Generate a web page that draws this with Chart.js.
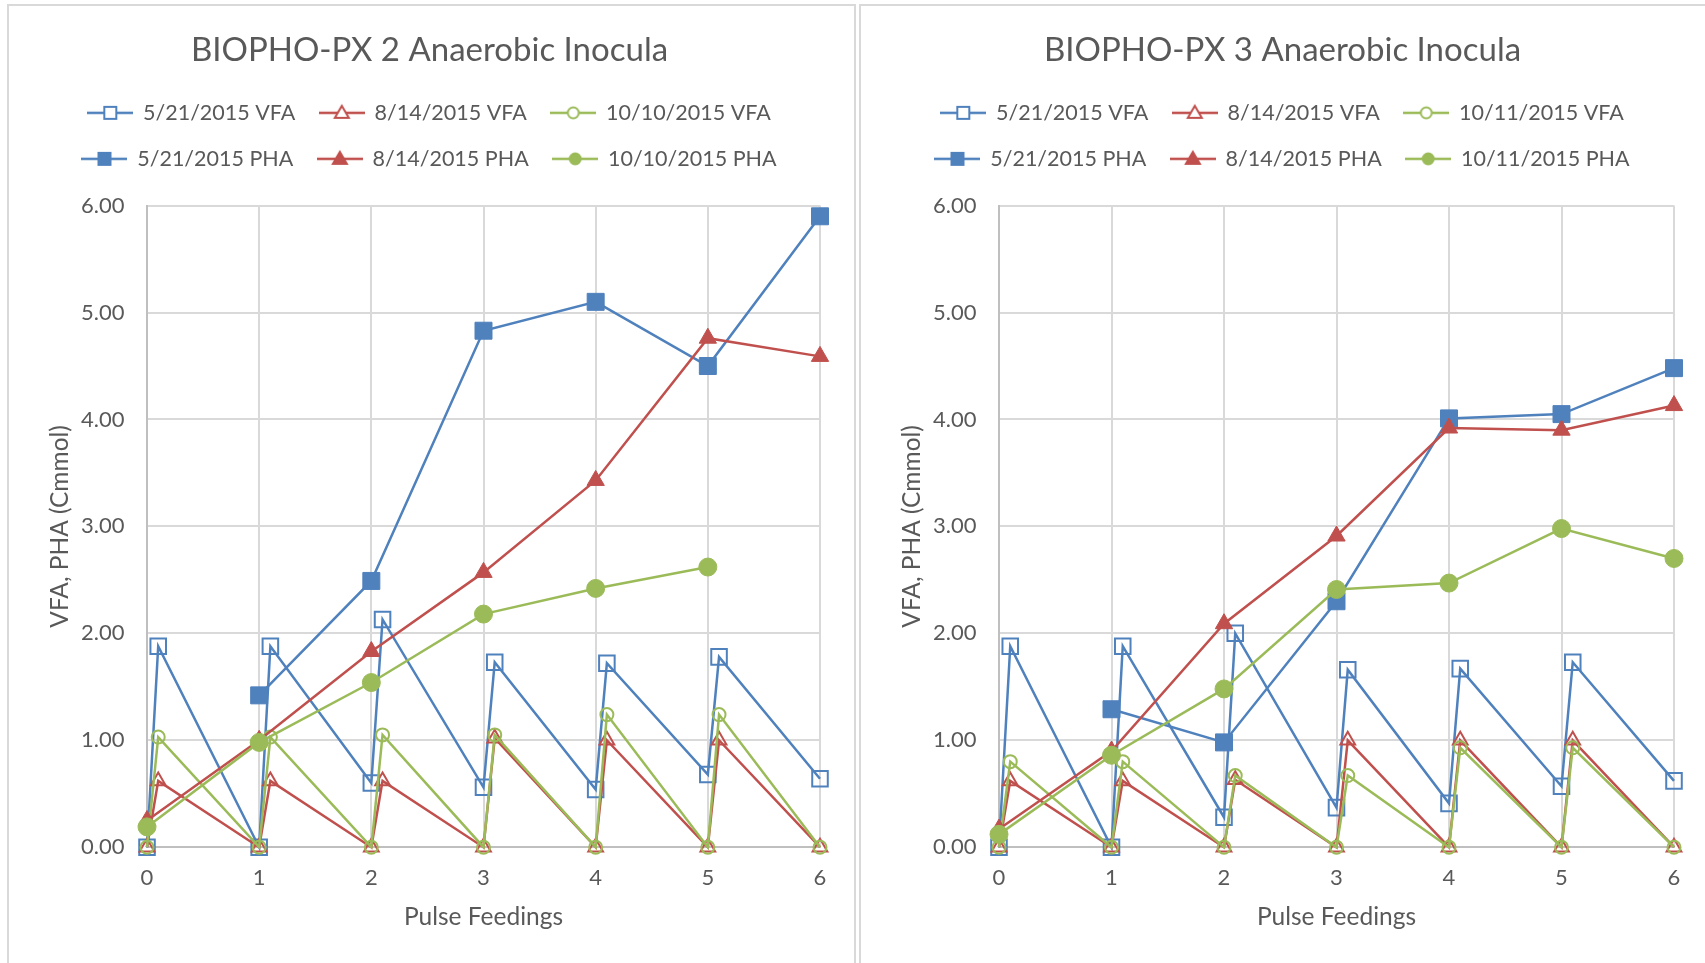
<!DOCTYPE html>
<html>
<head>
<meta charset="utf-8">
<script src="https://cdn.jsdelivr.net/npm/chart.js@4.4.1/dist/chart.umd.min.js"></script>
<style>
  html, body { margin: 0; padding: 0; background: #fff; overflow: hidden; }
  body { width: 1705px; height: 963px; position: relative; }
  .panel { position: absolute; top: 4px; height: 990px; border: 2px solid #d9d9d9; box-sizing: border-box; }
  #panel2 { left: 7px; width: 849px; }
  #panel3 { left: 859px; width: 870px; }
  canvas { position: absolute; left: 0; top: 0; }
</style>
</head>
<body>
<div class="panel" id="panel2"><canvas id="chartPx2" width="845" height="957"></canvas></div>
<div class="panel" id="panel3"><canvas id="chartPx3" width="844" height="957"></canvas></div>
<script>
// x positions: each pulse feeding and the VFA reading just after it
const vfaX = [0, 0.1, 1, 1.1, 2, 2.1, 3, 3.1, 4, 4.1, 5, 5.1, 6];
const phaX = [0, 1, 2, 3, 4, 5, 6];
const xTickValues = [0, 1, 2, 3, 4, 5, 6];
const yTickValues = [0, 1, 2, 3, 4, 5, 6];

// BIOPHO-PX 2
const px2Dates = ["5/21/2015", "8/14/2015", "10/10/2015"];
const px2Vfa0521 = [0, 1.88, 0, 1.88, 0.60, 2.13, 0.56, 1.73, 0.54, 1.72, 0.68, 1.78, 0.64];
const px2Vfa0814 = [0, 0.62, 0, 0.62, 0, 0.62, 0, 1.02, 0, 1.00, 0, 1.00, 0];
const px2Vfa1010 = [0, 1.03, 0, 1.03, 0, 1.05, 0, 1.05, 0, 1.24, 0, 1.24, 0];
const px2Pha0521 = [null, 1.42, 2.49, 4.83, 5.10, 4.50, 5.90];
const px2Pha0814 = [0.25, 1.00, 1.83, 2.57, 3.43, 4.76, 4.59];
const px2Pha1010 = [0.19, 0.98, 1.54, 2.18, 2.42, 2.62, null];

// BIOPHO-PX 3
const px3Dates = ["5/21/2015", "8/14/2015", "10/11/2015"];
const px3Vfa0521 = [0, 1.88, 0, 1.88, 0.28, 2.00, 0.37, 1.66, 0.41, 1.67, 0.57, 1.73, 0.62];
const px3Vfa0814 = [0, 0.62, 0, 0.62, 0, 0.63, 0, 1.00, 0, 1.00, 0, 1.00, 0];
const px3Vfa1011 = [0, 0.80, 0, 0.80, 0, 0.67, 0, 0.67, 0, 0.93, 0, 0.93, 0];
const px3Pha0521 = [null, 1.29, 0.98, 2.30, 4.01, 4.05, 4.48];
const px3Pha0814 = [0.17, 0.90, 2.09, 2.91, 3.92, 3.90, 4.13];
const px3Pha1011 = [0.12, 0.86, 1.48, 2.41, 2.47, 2.98, 2.70];

const FONT = "Lato";
const TEXT = "#595959";
const colors = ["#4f81bd", "#c0504d", "#9bbb59"];
const styles = ["rect", "triangle", "circle"];

// little line+marker picture for the legend, like Excel's
function legendIcon(color, style, filled) {
    const c = document.createElement("canvas");
    c.width = 46;
    c.height = 20;
    const g = c.getContext("2d");
    g.strokeStyle = color;
    g.lineWidth = 2.5;
    g.beginPath();
    g.moveTo(0, 10);
    g.lineTo(46, 10);
    g.stroke();
    g.fillStyle = filled ? color : "#fff";
    g.lineWidth = 2;
    g.beginPath();
    if (style === "rect") g.rect(17, 4, 12, 12);
    else if (style === "triangle") { g.moveTo(23, 3); g.lineTo(30, 15); g.lineTo(16, 15); g.closePath(); }
    else g.arc(23, 10, 5.5, 0, Math.PI * 2);
    g.fill();
    g.stroke();
    return c;
}

// extra room between legend and plot
const legendGap = {
    id: "legendGap",
    beforeInit(chart) {
        const fit = chart.legend.fit;
        chart.legend.fit = function () {
            fit.call(this);
            this.height += 26;
        };
    }
};

function buildChart(id, title, dates, vfaSets, phaSets, padRight) {
    const datasets = [];
    const icons = [];
    const openRadius = [11, 8.5, 6.5];
    const fillRadius = [12, 10, 9];
    vfaSets.forEach((vals, i) => {
        datasets.push({
            label: dates[i] + " VFA",
            data: vfaX.map((x, j) => ({ x: x, y: vals[j] })),
            showLine: true,
            borderColor: colors[i],
            borderWidth: 2.5,
            pointStyle: styles[i],
            pointRadius: openRadius[i],
            pointBorderWidth: 2,
            pointBorderColor: colors[i],
            pointBackgroundColor: "rgba(255,255,255,0)",
            clip: false,
            order: 10 - i
        });
        icons.push(legendIcon(colors[i], styles[i], false));
    });
    phaSets.forEach((vals, i) => {
        datasets.push({
            label: dates[i] + " PHA",
            data: phaX.map((x, j) => ({ x: x, y: vals[j] })),
            showLine: true,
            borderColor: colors[i],
            borderWidth: 2.5,
            pointStyle: styles[i],
            pointRadius: fillRadius[i],
            pointBorderWidth: 1,
            pointBorderColor: colors[i],
            pointBackgroundColor: colors[i],
            clip: false,
            order: 5 - i
        });
        icons.push(legendIcon(colors[i], styles[i], true));
    });

    return new Chart(document.getElementById(id), {
        type: "scatter",
        data: { datasets: datasets },
        plugins: [legendGap],
        options: {
            responsive: false,
            animation: false,
            events: [],
            layout: { padding: { left: 30, right: padRight, top: 0, bottom: 31 } },
            plugins: {
                tooltip: { enabled: false },
                title: {
                    display: true,
                    text: title,
                    color: TEXT,
                    font: { family: FONT, size: 33, weight: "normal" },
                    padding: { top: 25, bottom: 7 }
                },
                legend: {
                    display: true,
                    position: "top",
                    labels: {
                        usePointStyle: true,
                        pointStyleWidth: 44,
                        padding: 24.5,
                        color: TEXT,
                        font: { family: FONT, size: 21.5 },
                        generateLabels: (chart) => chart.data.datasets.map((ds, i) => ({
                            text: ds.label,
                            pointStyle: icons[i],
                            fontColor: TEXT,
                            fillStyle: colors[i % 3],
                            strokeStyle: colors[i % 3],
                            lineWidth: 0,
                            hidden: false,
                            datasetIndex: i
                        }))
                    }
                }
            },
            scales: {
                x: {
                    type: "linear",
                    min: 0,
                    max: 6,
                    afterBuildTicks: (s) => { s.ticks = xTickValues.map(v => ({ value: v })); },
                    grid: { color: "#d9d9d9", lineWidth: 2, drawTicks: false },
                    border: { color: "#bfbfbf", width: 2 },
                    ticks: { padding: 17.5, color: TEXT, font: { family: FONT, size: 22 }, callback: (v) => String(v) },
                    title: {
                        display: true,
                        text: "Pulse Feedings",
                        color: TEXT,
                        font: { family: FONT, size: 24.5 },
                        padding: { top: -6, bottom: 0 }
                    }
                },
                y: {
                    min: 0,
                    max: 6,
                    afterBuildTicks: (s) => { s.ticks = yTickValues.map(v => ({ value: v })); },
                    afterFit: (s) => { s.width = 108; },
                    grid: { color: "#d9d9d9", lineWidth: 2, drawTicks: false },
                    border: { color: "#bfbfbf", width: 2 },
                    ticks: { padding: 22.5, color: TEXT, font: { family: FONT, size: 22 }, callback: (v) => Number(v).toFixed(2) },
                    title: {
                        display: true,
                        text: "VFA, PHA (Cmmol)",
                        color: TEXT,
                        font: { family: FONT, size: 24.5 },
                        padding: { top: 6, bottom: 0 }
                    }
                }
            }
        }
    });
}

buildChart("chartPx2", "BIOPHO-PX 2 Anaerobic Inocula", px2Dates,
    [px2Vfa0521, px2Vfa0814, px2Vfa1010], [px2Pha0521, px2Pha0814, px2Pha1010], 34);
buildChart("chartPx3", "BIOPHO-PX 3 Anaerobic Inocula", px3Dates,
    [px3Vfa0521, px3Vfa0814, px3Vfa1011], [px3Pha0521, px3Pha0814, px3Pha1011], 31);
</script>
</body>
</html>
